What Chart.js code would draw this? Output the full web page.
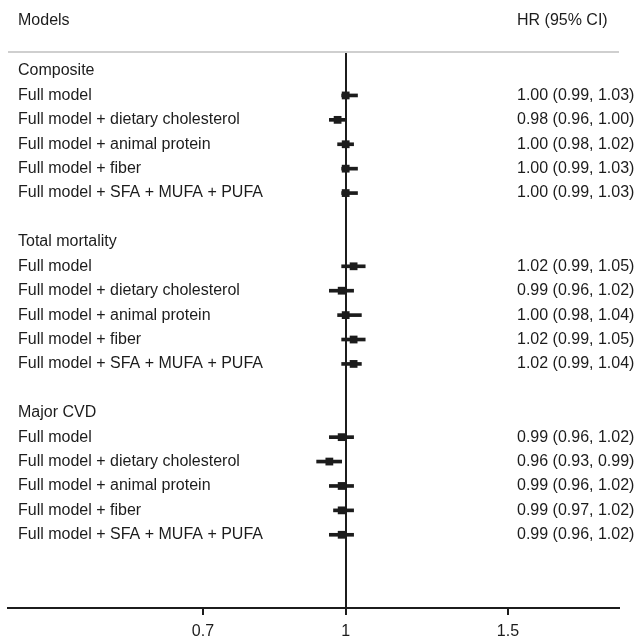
<!DOCTYPE html>
<html lang="en">
<head>
  <meta charset="UTF-8">
  <title>Forest plot - HR (95% CI)</title>
  <script src="https://cdn.jsdelivr.net/npm/chart.js"></script>
  <style>
    html, body { margin: 0; padding: 0; background: #fff; }
    #wrap { width: 636px; height: 638px; position: relative; }
  </style>
</head>
<body>
  <div id="wrap"><canvas id="forest"></canvas></div>

  <script>
    // data
    const groups = ['Composite', 'Total mortality', 'Major CVD'];
    const models = ['Full model', 'Full model + dietary cholesterol', 'Full model + animal protein',
                    'Full model + fiber', 'Full model + SFA + MUFA + PUFA'];

    const hrComposite = [1.00, 0.98, 1.00, 1.00, 1.00];
    const loComposite = [0.99, 0.96, 0.98, 0.99, 0.99];
    const hiComposite = [1.03, 1.00, 1.02, 1.03, 1.03];

    const hrTotal = [1.02, 0.99, 1.00, 1.02, 1.02];
    const loTotal = [0.99, 0.96, 0.98, 0.99, 0.99];
    const hiTotal = [1.05, 1.02, 1.04, 1.05, 1.04];

    const hrCvd = [0.99, 0.96, 0.99, 0.99, 0.99];
    const loCvd = [0.96, 0.93, 0.96, 0.97, 0.96];
    const hiCvd = [1.02, 0.99, 1.02, 1.02, 1.02];

    const xTicks = [0.7, 1, 1.5];

    const hrAll = [hrComposite, hrTotal, hrCvd];
    const loAll = [loComposite, loTotal, loCvd];
    const hiAll = [hiComposite, hiTotal, hiCvd];

    const FONT = '16px "Liberation Sans", Arial, Helvetica, sans-serif';
    const INK = '#1c1c1c';

    // row index: group header then its five models, then a blank row
    const points = [];
    const whiskers = [];
    const rows = [];
    groups.forEach((g, gi) => {
      const base = gi * 7;
      rows.push({ k: base, label: g });
      models.forEach((m, i) => {
        const k = base + 1 + i;
        const hr = hrAll[gi][i], lo = loAll[gi][i], hi = hiAll[gi][i];
        rows.push({ k: k, label: m, value: `${hr.toFixed(2)} (${lo.toFixed(2)}, ${hi.toFixed(2)})` });
        points.push({ x: hr, y: k });
        whiskers.push({ x: [lo, hi], y: k });
      });
    });

    const textPlugin = {
      id: 'forestText',
      afterDraw(chart) {
        const c = chart.ctx;
        const area = chart.chartArea;
        const y = chart.scales.y;
        c.save();
        // header rule
        c.strokeStyle = '#cfcfcf';
        c.lineWidth = 2;
        c.beginPath();
        c.moveTo(area.left, area.top);
        c.lineTo(area.right, area.top);
        c.stroke();

        c.font = FONT;
        c.fillStyle = INK;
        c.textBaseline = 'middle';
        c.fillText('Models', 18, 21);
        c.fillText('HR (95% CI)', 517, 21);
        rows.forEach(r => {
          const py = y.getPixelForValue(r.k);
          c.fillText(r.label, 18, py);
          if (r.value) c.fillText(r.value, 517, py);
        });
        c.restore();
      }
    };

    new Chart(document.getElementById('forest'), {
      data: {
        datasets: [
          {
            type: 'bar',
            data: whiskers,
            backgroundColor: INK,
            borderWidth: 0,
            barThickness: 3,
            indexAxis: 'y'
          },
          {
            type: 'scatter',
            data: points,
            pointStyle: 'rect',
            pointRadius: 5.5,
            pointHoverRadius: 5.5,
            backgroundColor: INK,
            borderColor: INK,
            borderWidth: 0
          }
        ]
      },
      options: {
        responsive: true,
        maintainAspectRatio: false,
        animation: false,
        indexAxis: 'y',
        layout: { padding: { left: 8, right: 17, top: 52, bottom: 0 } },
        plugins: { legend: { display: false }, tooltip: { enabled: false } },
        scales: {
          x: {
            type: 'logarithmic',
            position: 'bottom',
            min: 0.43,
            max: 1.98,
            offset: false,
            afterBuildTicks: s => { s.ticks = xTicks.map(v => ({ value: v })); },
            afterFit: s => { s.height = 30; },
            ticks: {
              color: INK,
              font: { family: '"Liberation Sans", Arial, sans-serif', size: 16 },
              padding: 7,
              maxRotation: 0,
              autoSkip: false,
              callback: v => String(v)
            },
            grid: {
              color: ctx => (ctx.tick && ctx.tick.value === 1 ? INK : 'rgba(0,0,0,0)'),
              lineWidth: 2,
              tickColor: INK,
              tickLength: 7,
              drawOnChartArea: true,
              offset: false
            },
            border: { display: true, color: INK, width: 2 }
          },
          y: {
            type: 'linear',
            reverse: true,
            min: -0.78,
            max: 22,
            offset: false,
            grid: { offset: false },
            display: false
          }
        }
      },
      plugins: [textPlugin]
    });
  </script>
</body>
</html>
